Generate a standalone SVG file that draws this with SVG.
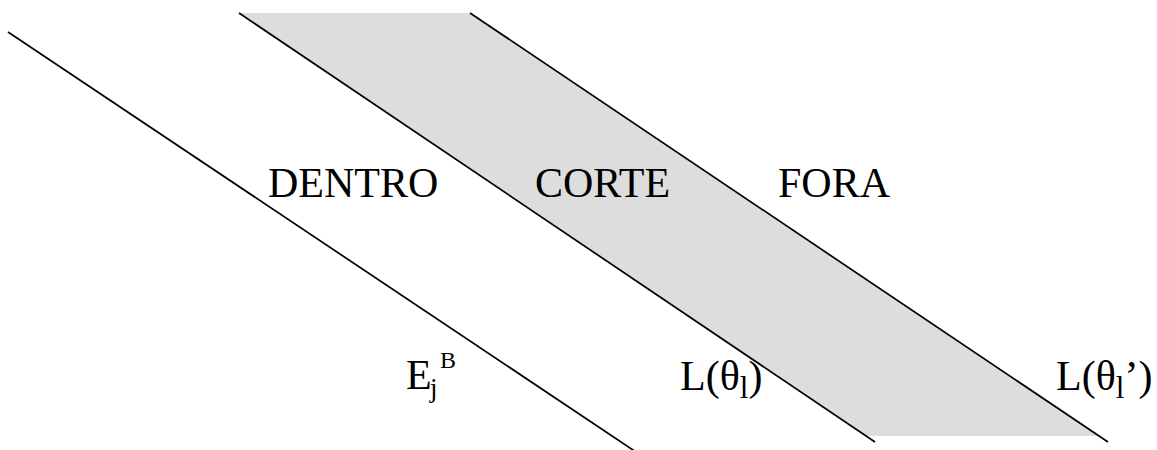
<svg xmlns="http://www.w3.org/2000/svg" width="1157" height="450" viewBox="0 0 1157 450">
<style>
.ln{stroke:#000;stroke-width:1.7;fill:none}
.t{font-family:"Liberation Serif","Times New Roman",serif;font-size:42px;fill:#000}
.s{font-size:27px}
.sl{font-size:31px}
.sp{font-size:24px}
</style>
<rect width="1157" height="450" fill="#fff"/>
<g id="band"><polygon points="239,13 470,13 1099,436 866,436" fill="#dddddd"/></g>
<g id="connectors">
<line class="ln" x1="8" y1="32" x2="636" y2="452"/>
<line class="ln" x1="239" y1="13" x2="875" y2="442"/>
<line class="ln" x1="470" y1="13" x2="1108" y2="442"/>
</g>
<g id="dentro"><text class="t" x="268" y="197">DENTRO</text></g>
<g id="corte"><text class="t" x="535" y="197">CORTE</text></g>
<g id="fora"><text class="t" x="778" y="197">FORA</text></g>
<g id="ejb"><text class="t" x="406" y="389">E</text><text class="t s" x="430" y="397">j</text><text class="t sp" x="440" y="368">B</text></g>
<g id="ltheta"><text class="t" x="680" y="390">L(θ<tspan class="sl" dy="8">l</tspan><tspan dy="-8">)</tspan></text></g>
<g id="ltheta2"><text class="t" x="1056" y="390">L(θ<tspan class="sl" dy="8">l</tspan><tspan dy="-8">’)</tspan></text></g>
</svg>
